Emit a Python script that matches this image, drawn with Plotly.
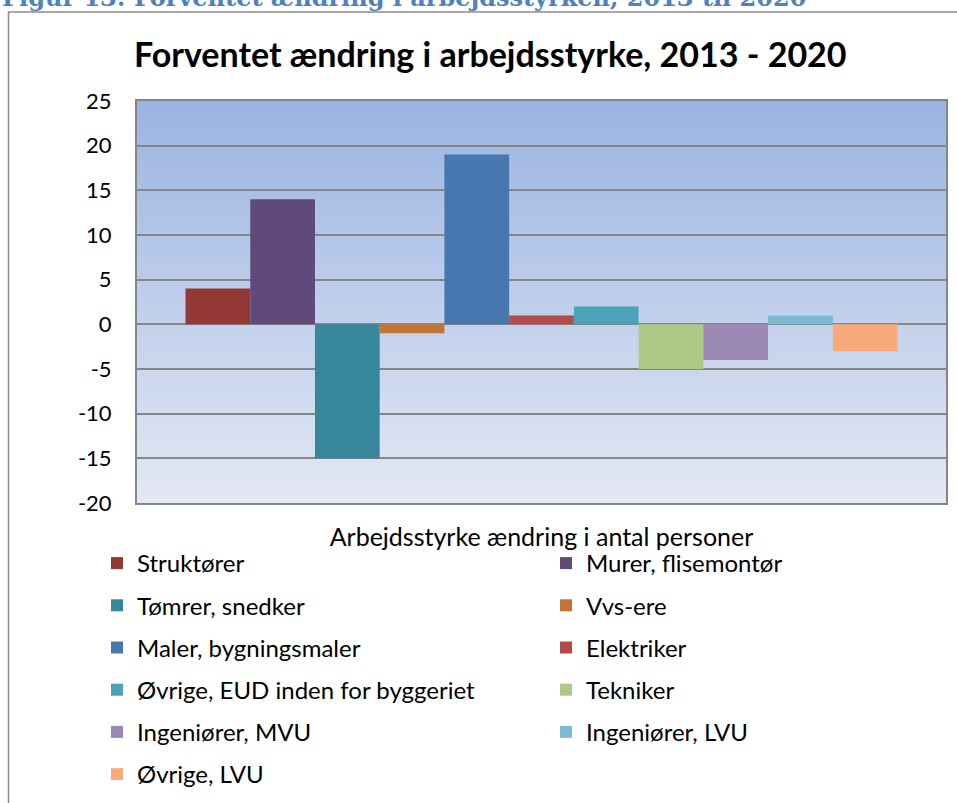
import plotly.graph_objects as go

category = ["Arbejdsstyrke ændring i antal personer"]
series_names = ["Struktører", "Murer, flisemontør", "Tømrer, snedker", "Vvs-ere",
                "Maler, bygningsmaler", "Elektriker", "Øvrige, EUD inden for byggeriet",
                "Tekniker", "Ingeniører, MVU", "Ingeniører, LVU", "Øvrige, LVU"]
series_values = [4, 14, -15, -1, 19, 1, 2, -5, -4, 1, -3]
series_colors = ["#953735", "#604a7b", "#37879b", "#c27534", "#4677af", "#b54b48",
                 "#4aa3b9", "#afc886", "#9c89b3", "#7db9d0", "#f8ab7a"]
y_ticks = [-20, -15, -10, -5, 0, 5, 10, 15, 20, 25]
y_tick_labels = [str(v) for v in y_ticks]

FONT = "Lato"
W, H = 957, 803
ML, MR, MT, MB = 137, 11, 101, 300
PH = H - MT - MB
PW = W - ML - MR

def px_x(px):
    return (px - ML) / PW

def px_y(py):
    return (H - MB - py) / PH

fig = go.Figure()
for i, (name, val, col) in enumerate(zip(series_names, series_values, series_colors)):
    fig.add_trace(go.Bar(
        x=category, y=[val], name=name, marker=dict(color=col, line=dict(width=0)),
        legend="legend" if i % 2 == 0 else "legend2",
        legendgroup=name,
    ))

# gradient plot background
n = 80
top = (154, 180, 226)
bot = (228, 232, 244)
shapes = []
ymin, ymax = -20, 25
step = (ymax - ymin) / n
for k in range(n):
    f = (k + 0.5) / n
    c = tuple(int(round(top[j] + (bot[j] - top[j]) * f)) for j in range(3))
    y1 = ymax - step * k
    y0 = max(ymin, y1 - step * 1.6)
    shapes.append(dict(type="rect", xref="paper", yref="y", x0=0, x1=1, y0=y0, y1=y1,
                       fillcolor="rgb(%d,%d,%d)" % c, line=dict(width=0), layer="below"))
# outer chart border
shapes.append(dict(type="rect", xref="paper", yref="paper", x0=px_x(8.5), x1=px_x(990),
                   y0=px_y(830), y1=px_y(12), line=dict(color="#8c8c8c", width=1.5),
                   fillcolor="rgba(0,0,0,0)", layer="above"))

fig.update_layout(
    width=W, height=H,
    margin=dict(l=ML, r=MR, t=MT, b=MB, autoexpand=False),
    paper_bgcolor="white",
    plot_bgcolor="rgba(0,0,0,0)",
    barmode="group", bargap=0.12, bargroupgap=0,
    font=dict(family=FONT, color="black"),
    shapes=shapes,
    showlegend=True,
    legend=dict(x=px_x(97), y=px_y(541), xanchor="left", yanchor="top",
                orientation="v", tracegroupgap=8, font=dict(size=24, family=FONT),
                bgcolor="rgba(0,0,0,0)", itemclick=False),
    legend2=dict(x=px_x(546), y=px_y(541), xanchor="left", yanchor="top",
                 orientation="v", tracegroupgap=8, font=dict(size=24, family=FONT),
                 bgcolor="rgba(0,0,0,0)", itemclick=False),
    annotations=[
        dict(text="<b>Forventet ændring i arbejdsstyrke, 2013 - 2020</b>", xref="paper", yref="paper",
             x=px_x(490), y=px_y(54), xanchor="center", yanchor="middle", showarrow=False,
             font=dict(size=34, family=FONT, color="black")),
        dict(text="<b>Figur 13: Forventet ændring i arbejdsstyrken, 2013 til 2020</b>", xref="paper", yref="paper",
             x=px_x(0), y=px_y(14), xanchor="left", yanchor="bottom", showarrow=False,
             font=dict(size=24, family="DejaVu Serif", color="#4f81bd")),
    ],
)
fig.update_xaxes(showgrid=False, showline=True, linecolor="#868686", linewidth=2, mirror=True,
                 ticks="", tickfont=dict(size=25, family=FONT), ticklabelstandoff=11)
fig.update_yaxes(range=[ymin, ymax], tickvals=y_ticks, ticktext=y_tick_labels,
                 showgrid=True, gridcolor="#868686", gridwidth=2,
                 zeroline=True, zerolinecolor="#868686", zerolinewidth=2,
                 showline=True, linecolor="#868686", linewidth=2, mirror=True,
                 ticks="", tickfont=dict(size=22, family=FONT), ticklabelstandoff=19)

fig.write_html("out.html", config={"displayModeBar": False},
               post_script="document.body.style.margin='0';")
